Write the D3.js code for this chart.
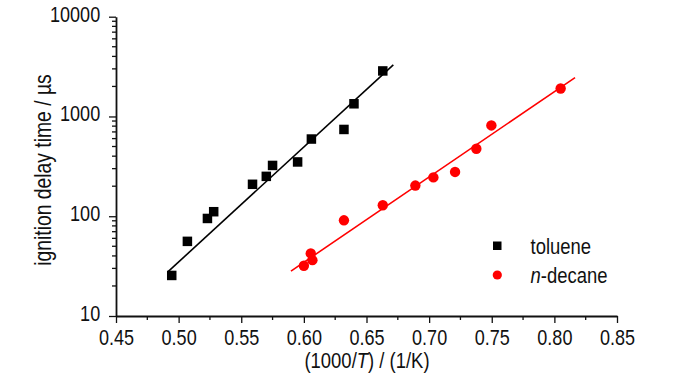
<!DOCTYPE html>
<html>
<head>
<meta charset="utf-8">
<script src="https://cdn.jsdelivr.net/npm/d3@7"></script>
<style>
  body { margin: 0; background: #fff; }
  text { font-family: "Liberation Sans", Arial, sans-serif; fill: #111; }
</style>
</head>
<body>
<script>
// toluene measurements
const tolueneX = [0.4945, 0.507, 0.523, 0.528, 0.559, 0.570, 0.575, 0.595, 0.606, 0.632, 0.640, 0.663];
const tolueneY = [25.5, 56, 95, 111, 209, 251, 323, 350, 594, 741, 1340, 2860];
// n-decane measurements
const decaneX = [0.600, 0.6055, 0.6068, 0.632, 0.663, 0.689, 0.7034, 0.7207, 0.7377, 0.7497, 0.805];
const decaneY = [31.9, 42.4, 36.3, 91, 129, 203, 245, 278, 475, 813, 1905];
// fitted lines (end points)
const tolueneFitX = [0.4918, 0.6714];
const tolueneFitY = [28, 3290];
const decaneFitX = [0.5897, 0.8165];
const decaneFitY = [28.2, 2455];

const xTicks = [0.45, 0.50, 0.55, 0.60, 0.65, 0.70, 0.75, 0.80, 0.85];
const yTicks = [10, 100, 1000, 10000];

const svgWidth = 700, svgHeight = 374;
const margin = { left: 116, right: 83, top: 16.7, bottom: 58 };
const sx = 0.84; // the original font is horizontally condensed

let svg = d3.select('body').append('svg')
    .attr('width', svgWidth)
    .attr('height', svgHeight);

let x = d3.scaleLinear().domain([0.45, 0.85]).range([margin.left, svgWidth - margin.right]);
let y = d3.scaleLog().domain([10, 10000]).range([svgHeight - margin.bottom, margin.top]);

function label(px, py, size, rot) {
    return svg.append('text')
        .attr('transform', 'translate(' + px + ',' + py + ')' + (rot ? ' rotate(' + rot + ')' : '') + ' scale(' + sx + ',1)')
        .style('font-size', size + 'px');
}

// minor ticks
let xMinor = d3.range(0.475, 0.85, 0.05);
let yMinor = [];
[10, 100, 1000].forEach(d => { for (let k = 2; k <= 9; k++) yMinor.push(d * k); });

let xAxis = svg.append('g').attr('transform', 'translate(0,' + y(10) + ')');
xAxis.call(d3.axisBottom(x).tickValues(xTicks).tickFormat(d3.format('.2f')).tickSizeInner(7).tickSizeOuter(0).tickPadding(3));
xAxis.selectAll('line.minor').data(xMinor).enter().append('line')
    .attr('class', 'minor')
    .attr('x1', d => x(d)).attr('x2', d => x(d))
    .attr('y1', 0).attr('y2', 4)
    .attr('stroke', '#111').attr('stroke-width', 1.3);

let yAxis = svg.append('g').attr('transform', 'translate(' + x(0.45) + ',0)');
yAxis.call(d3.axisLeft(y).tickValues(yTicks).tickFormat(d3.format('d')).tickSizeInner(7).tickSizeOuter(0).tickPadding(2));
yAxis.selectAll('line.minor').data(yMinor).enter().append('line')
    .attr('class', 'minor')
    .attr('x1', 0).attr('x2', -4)
    .attr('y1', d => y(d)).attr('y2', d => y(d))
    .attr('stroke', '#111').attr('stroke-width', 1.3);

svg.selectAll('.domain').attr('stroke', '#111').attr('stroke-width', 1.8);
svg.selectAll('.tick line').attr('stroke', '#111').attr('stroke-width', 1.3);
svg.selectAll('.tick text').style('font-size', '21.5px').attr('fill', '#111')
    .attr('transform', 'scale(' + sx + ',1)');
xAxis.selectAll('.tick text').attr('dy', '0.9em');
yAxis.selectAll('.tick text').attr('x', -17.5 / sx + 2).attr('dy', '0.2em');

// axis titles
let xt = label(367, 368, 22).attr('text-anchor', 'middle');
xt.append('tspan').text('(1000/');
xt.append('tspan').style('font-style', 'italic').text('T');
xt.append('tspan').text(') / (1/K)');

label(51, 170, 23, -90)
    .attr('text-anchor', 'middle')
    .text('ignition delay time / \u00b5s');

// fit lines
let line = d3.line().x(d => x(d[0])).y(d => y(d[1]));
svg.append('path')
    .datum(d3.zip(tolueneFitX, tolueneFitY))
    .attr('d', line).attr('fill', 'none').attr('stroke', '#000').attr('stroke-width', 1.6);
svg.append('path')
    .datum(d3.zip(decaneFitX, decaneFitY))
    .attr('d', line).attr('fill', 'none').attr('stroke', '#ff0000').attr('stroke-width', 1.6);

// markers
const sq = 9.5;
svg.selectAll('rect.toluene').data(d3.zip(tolueneX, tolueneY)).enter().append('rect')
    .attr('class', 'toluene')
    .attr('x', d => x(d[0]) - sq / 2).attr('y', d => y(d[1]) - sq / 2)
    .attr('width', sq).attr('height', sq)
    .attr('fill', '#000');

svg.selectAll('circle.decane').data(d3.zip(decaneX, decaneY)).enter().append('circle')
    .attr('class', 'decane')
    .attr('cx', d => x(d[0])).attr('cy', d => y(d[1]))
    .attr('r', 5.2)
    .attr('fill', '#ff0000');

// legend
svg.append('rect').attr('x', 493).attr('y', 241.5).attr('width', 8.5).attr('height', 8.5).attr('fill', '#000');
svg.append('circle').attr('cx', 497.3).attr('cy', 275).attr('r', 4.6).attr('fill', '#ff0000');
label(530.5, 254, 22).text('toluene');
let lt = label(530.5, 283, 22);
lt.append('tspan').style('font-style', 'italic').text('n');
lt.append('tspan').text('-decane');
</script>
</body>
</html>
